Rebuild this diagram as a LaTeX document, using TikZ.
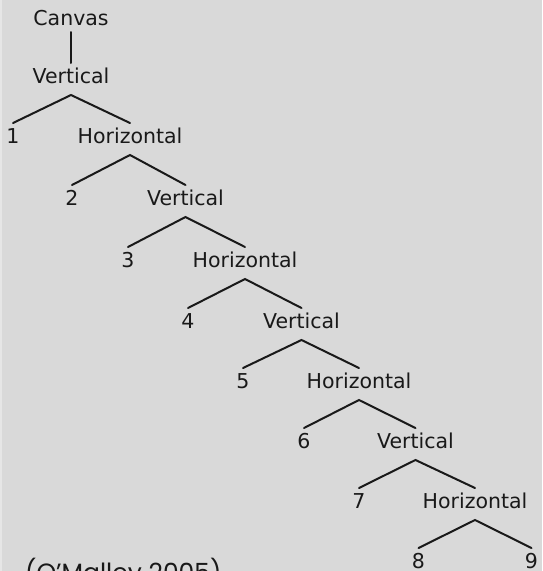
\documentclass[tikz,border=0pt]{standalone}
\usepackage{fontspec}
\setmainfont{DejaVu Sans}
\newfontfamily\capfont{Poppins}
\usetikzlibrary{calc}
\definecolor{bg}{HTML}{D9D9D9}
\definecolor{bgedge}{HTML}{E6E6E6}
\begin{document}
\begin{tikzpicture}[x=1pt,y=-1pt,
  lbl/.style={anchor=base,inner sep=0pt,text=black!90,font=\fontsize{20.5}{24}\selectfont},
  branch/.style={line width=2pt,line cap=round,black!90}]
\fill[bg] (0,0) rectangle (542,571);
\fill[bgedge] (0,0) rectangle (2,571);
\useasboundingbox (0,0) rectangle (542,571);
\clip (0,0) rectangle (542,571);
% nodes (baselines = cap top + 15)
\node[lbl] (canvas) at (71,25) {Canvas};
\node[lbl] (v1) at (71,83) {Vertical};
\node[lbl] (n1) at (13,143) {1};
\node[lbl] (h2) at (130,143) {Horizontal};
\node[lbl] (n2) at (72,205) {2};
\node[lbl] (v3) at (185.5,205) {Vertical};
\node[lbl] (n3) at (128,267) {3};
\node[lbl] (h4) at (245,267) {Horizontal};
\node[lbl] (n4) at (188,328) {4};
\node[lbl] (v5) at (301.5,328) {Vertical};
\node[lbl] (n5) at (243,388) {5};
\node[lbl] (h6) at (359,388) {Horizontal};
\node[lbl] (n6) at (304,448) {6};
\node[lbl] (v7) at (415.5,448) {Vertical};
\node[lbl] (n7) at (359,508) {7};
\node[lbl] (h8) at (475,508) {Horizontal};
\node[lbl] (n8) at (418.5,568) {8};
\node[lbl] (n9) at (531.5,568) {9};
% caption
\node[anchor=base west,inner sep=0pt,text=black!90,font=\capfont\fontsize{25}{30}\selectfont] (cap) at (25,581) {(O’Malley 2005)};
% connectors
\draw[branch] ($(canvas.base)+(0,7)$) -- ($(v1.base)+(0,-20)$);
\foreach \p/\l/\r in {v1/n1/h2, h2/n2/v3, v3/n3/h4, h4/n4/v5, v5/n5/h6, h6/n6/v7, v7/n7/h8, h8/n8/n9}{
  \draw[branch] ($(\l.base)+(0,-20)$) -- ($(\p.base)+(0,12)$) -- ($(\r.base)+(0,-20)$);
}
\end{tikzpicture}
\end{document}
